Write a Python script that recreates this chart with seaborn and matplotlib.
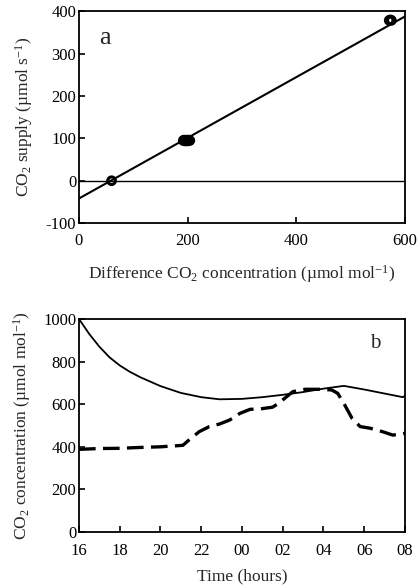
import numpy as np
import pandas as pd
import matplotlib
matplotlib.use("Agg")
import matplotlib.pyplot as plt
import seaborn as sns

# ---- data panel a ----
diff_co2 = [60, 192, 193.5, 195, 196.5, 198, 199.5, 201, 202.5, 204, 571, 573, 575]
co2_supply = [0, 95, 96, 94, 95, 96, 94, 95, 96, 95, 379, 380, 379]
fit_intercept = -42.0
fit_slope = 0.717
fit_x = [0, 600]

# ---- data panel b (hours since 16:00) ----
solid_t = [0, 0.5, 1, 1.5, 2, 2.5, 3, 4, 5, 6, 6.9, 8, 9, 10, 11, 12, 13, 14, 15, 15.9, 16]
solid_v = [1000, 930, 870, 820, 782, 752, 727, 685, 653, 633, 623, 625, 633, 644, 657, 673, 686, 669, 650, 633, 640]

dash_t = [0, 1, 2, 3, 4, 5.1, 5.4, 5.9, 6.4, 6.9, 7.4, 7.9, 8.4, 8.9, 9.5, 9.8, 10.2, 10.5, 11.1, 11.8, 12.4, 12.7, 13.0, 13.4, 13.8, 14.3, 14.9, 15.4, 16]
dash_v = [388, 392, 393, 397, 400, 407, 432, 471, 495, 507, 526, 557, 576, 578, 586, 604, 636, 659, 670, 670, 667, 651, 604, 534, 495, 487, 471, 455, 463]

time_ticks = [0, 2, 4, 6, 8, 10, 12, 14, 16]
time_labels = ["16", "18", "20", "22", "00", "02", "04", "06", "08"]

sns.set_theme(style="ticks")
plt.rcParams["font.family"] = ["Liberation Serif", "DejaVu Serif"]
plt.rcParams["mathtext.fontset"] = "custom"
plt.rcParams["mathtext.rm"] = "Liberation Serif"
plt.rcParams["mathtext.it"] = "Liberation Serif:italic"
plt.rcParams["mathtext.default"] = "regular"
plt.rcParams["axes.unicode_minus"] = False

tfs = 12
lfs = 12.5
fig = plt.figure(figsize=(4.19, 5.88), dpi=100)
ax1 = fig.add_axes([0.1885, 0.6207, 0.778, 0.3598])
ax2 = fig.add_axes([0.1885, 0.0952, 0.778, 0.3623])

# panel a
fx = np.array(fit_x, dtype=float)
fy = fit_intercept + fit_slope * fx
sns.lineplot(x=fx, y=fy, ax=ax1, color="black", linewidth=1.5)
ax1.axhline(0, color="black", linewidth=1.0)
sns.scatterplot(x=diff_co2, y=co2_supply, ax=ax1, marker="o", s=30,
                facecolor="none", edgecolor="black", linewidth=2.2, zorder=5)
ax1.set_xlim(0, 600)
ax1.set_ylim(-100, 400)
ax1.set_xticks([0, 200, 400, 600])
ax1.set_yticks([-100, 0, 100, 200, 300, 400])
ax1.text(0.08, 0.875, "a", transform=ax1.transAxes, fontsize=19, ha="center", va="center")

# panel b
sns.lineplot(x=solid_t, y=solid_v, ax=ax2, color="black", linewidth=1.3)
sns.lineplot(x=dash_t, y=dash_v, ax=ax2, color="black", linewidth=2.4,
             linestyle=(0, (5, 2.2)))
ax2.set_xlim(0, 16)
ax2.set_ylim(0, 1000)
ax2.set_xticks(time_ticks)
ax2.set_xticklabels(time_labels)
ax2.set_yticks([0, 200, 400, 600, 800, 1000])
ax2.text(0.908, 0.887, "b", transform=ax2.transAxes, fontsize=15, ha="center", va="center")

for ax in (ax1, ax2):
    for sp in ax.spines.values():
        sp.set_visible(True)
        sp.set_linewidth(1.3)
        sp.set_color("black")
    ax.tick_params(direction="in", length=4, width=1.2, labelsize=tfs, colors="black")
    ax.tick_params(axis="y", pad=2)

ax1.tick_params(axis="x", pad=7)
ax2.tick_params(axis="x", pad=8)

ax1.set_xlabel("Difference CO$_2$ concentration (µmol mol$^{-1}$)", fontsize=lfs, labelpad=10)
ax1.set_ylabel("CO$_2$ supply (µmol s$^{-1}$)", fontsize=lfs, labelpad=8)
ax2.set_xlabel("Time (hours)", fontsize=lfs, labelpad=7)
ax2.set_ylabel("CO$_2$ concentration (µmol mol$^{-1}$)", fontsize=lfs, labelpad=7)

fig.savefig("out.png", dpi=100)
